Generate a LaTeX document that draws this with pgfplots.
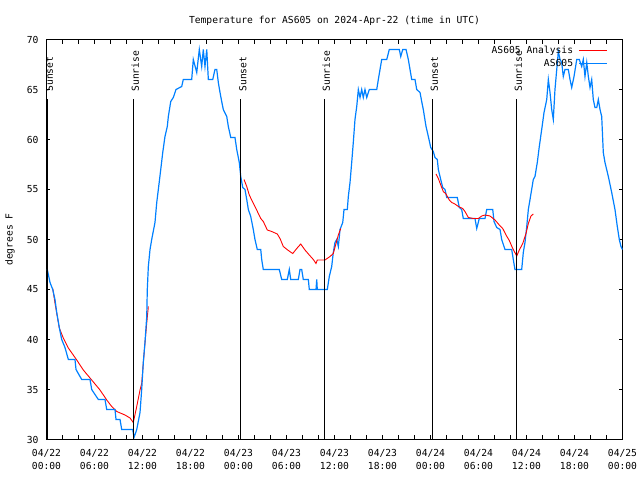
\documentclass[border=0pt]{standalone}
\usepackage{pgfplots}
\pgfplotsset{compat=1.18}
\usepackage{fontspec}
\setmainfont{DejaVu Sans Mono}
\definecolor{asblue}{RGB}{0,128,255}
\definecolor{asred}{RGB}{255,0,0}
\newcommand\gf{\fontsize{9.7}{13}\selectfont}
\begin{document}
\begin{tikzpicture}
\useasboundingbox (-46.5bp,-40.5bp) rectangle (593.5bp,439.5bp);
\begin{axis}[
  scale only axis, width=576bp, height=400bp,
  xmin=0, xmax=72, ymin=30, ymax=70,
  xtick={0,6,...,72},
  minor xtick={2,4,8,10,14,16,20,22,26,28,32,34,38,40,44,46,50,52,56,58,62,64,68,70},
  xticklabels={04/22\\00:00,04/22\\06:00,04/22\\12:00,04/22\\18:00,04/23\\00:00,04/23\\06:00,04/23\\12:00,04/23\\18:00,04/24\\00:00,04/24\\06:00,04/24\\12:00,04/24\\18:00,04/25\\00:00},
  ytick={30,35,...,70},
  tick align=inside, major tick length=4bp, minor tick length=4bp,
  tick style={black, line width=0.8bp},
  axis line style={line width=1bp},
  font=\gf, ticklabel style={font=\gf},
  /pgf/number format/assume math mode=true,
  xticklabel style={align=center, yshift=-6bp},
  yticklabel style={xshift=-4.5bp},
  title={Temperature for AS605 on 2024-Apr-22 (time in UTC)},
  title style={at={(0.5,1)}, anchor=center, yshift=12.5bp},
  ylabel={degrees F},
  ylabel style={at={(axis description cs:-0.0634,0.5)}, anchor=center},
  legend cell align=right, legend plot pos=right,
  legend image code/.code={\draw[#1] (0bp,0bp) -- (28bp,0bp);},
  legend style={at={(0.9748,0.988)}, anchor=north east, draw=none, fill=none, font=\gf, inner sep=0pt, row sep=1bp, column sep=4bp,
    nodes={inner sep=1.5bp}},
]
\addplot[asred, line width=0.9bp] coordinates {(0.78,45.1) (1.06,43.65) (1.35,42.3) (1.6,41.15) (2.1,40.15) (2.73,39.15) (3.78,37.95) (4.6,36.95) (5.65,35.95) (6.69,34.95) (7.53,33.95) (8.15,33.3) (8.78,32.8) (9.81,32.45) (10.44,32.15) (10.85,31.7) (11.28,33.3) (11.69,34.95) (11.9,35.6) (12.1,37.65) (12.31,39.65) (12.53,41.65) (12.73,43.3)};
\addlegendentry{AS605 Analysis}
\addplot[asblue, line width=1.2bp] coordinates {(0.1,47) (0.44,45.7) (0.78,45) (1.06,44) (1.28,42.7) (1.6,41.2) (1.9,40) (2.31,39.2) (2.73,38) (3.56,38) (3.69,37) (4.4,36) (5.44,36) (5.65,35) (6.48,34) (7.31,34) (7.53,33) (8.56,33) (8.69,32) (9.19,32) (9.4,31) (10.78,31) (10.94,30.2) (11.28,31) (11.69,32.7) (11.9,35) (12.1,37.7) (12.31,39.7) (12.53,42.3) (12.6,45) (12.73,47.3) (12.94,49) (13.15,50) (13.56,51.7) (13.78,53.7) (13.98,55) (14.28,57) (14.53,58.7) (14.81,60.3) (15.1,61.3) (15.23,62.3) (15.53,63.8) (15.85,64.2) (16.19,65) (16.9,65.3) (17.1,66) (18.15,66) (18.35,68) (18.78,66.7) (19.1,69) (19.4,67.3) (19.6,69) (19.81,67.3) (20.03,69) (20.23,66) (20.78,66) (21.06,67) (21.28,67) (21.48,65.7) (21.69,64.7) (21.9,63.8) (22.1,63) (22.53,62.3) (22.73,61.3) (23.03,60.2) (23.56,60.2) (23.78,59) (24.1,57.7) (24.28,56.3) (24.53,55.2) (24.81,55) (25.03,54) (25.23,53) (25.53,52.3) (25.85,51) (26.06,50) (26.35,49) (26.78,49) (26.9,48) (27.1,47) (29.1,47) (29.4,46) (30.1,46) (30.35,47) (30.53,46) (31.48,46) (31.69,47) (31.9,47) (32.1,46) (32.73,46) (32.85,45) (33.69,45) (33.78,46) (33.85,45) (35.1,45) (35.35,46.3) (35.65,47.3) (35.85,48.7) (36.06,49.7) (36.28,50) (36.48,49.3) (36.69,51) (37.03,51.7) (37.19,53) (37.6,53) (37.73,54.3) (37.94,55.7) (38.15,57.7) (38.35,59.7) (38.56,62) (38.78,63.3) (38.98,65) (39.19,64.2) (39.4,65) (39.6,64.2) (39.81,65) (40.03,64.2) (40.35,65) (41.28,65) (41.48,66) (41.9,68) (42.53,68) (42.85,69) (44.1,69) (44.28,68.3) (44.53,69) (44.94,69) (45.23,68) (45.44,67) (45.65,66) (46.06,66) (46.28,65) (46.69,64.7) (46.9,63.8) (47.1,63) (47.44,61.3) (47.73,60.3) (48.03,59.2) (48.35,58.8) (48.56,58.2) (48.85,58) (48.98,57) (49.28,56) (49.53,55.2) (49.81,55) (50.03,54.2) (51.35,54.2) (51.6,53.2) (51.9,53) (52.1,52.1) (53.56,52.1) (53.78,51.1) (54.1,52.1) (54.81,52.1) (55.03,53) (55.78,53) (55.94,51.8) (56.28,51.2) (56.69,51) (56.9,50) (57.31,49) (58.15,49) (58.35,48) (58.56,47) (59.4,47) (59.6,48.7) (59.81,49.7) (60.03,51.3) (60.23,53) (60.44,54) (60.85,56) (61.06,56.3) (61.35,57.7) (61.6,59.3) (61.9,61) (62.19,62.7) (62.53,64) (62.73,66) (62.94,64.7) (63.15,63) (63.35,62) (63.56,65) (63.78,67) (63.98,68.8) (64.19,68) (64.4,67.7) (64.6,66.3) (64.81,67) (65.23,67) (65.44,66) (65.65,65.2) (65.94,66.3) (66.28,68) (66.6,68) (66.9,67.3) (67.1,68) (67.31,66.3) (67.53,67.7) (67.73,66.3) (67.94,65.2) (68.15,66) (68.35,64) (68.56,63.2) (68.78,63.2) (68.98,64) (69.19,63) (69.4,62.3) (69.6,58.7) (69.81,57.7) (70.23,56.3) (70.65,54.7) (71.06,53) (71.35,51.3) (71.6,50) (71.81,49.3) (72,49)};
\addlegendentry{AS605}
\addplot[asred, line width=0.9bp, forget plot] coordinates {(24.69,56) (25.03,55.3) (25.35,54.45) (25.65,53.95) (26.06,53.3) (26.48,52.6) (26.78,52.1) (27.1,51.8) (27.6,50.95) (28.15,50.8) (28.85,50.55) (29.19,50.1) (29.6,49.3) (30.23,48.9) (30.78,48.6) (31.28,49.1) (31.78,49.55) (32.31,48.95) (32.85,48.45) (33.35,48) (33.69,47.6) (33.85,47.95) (34.81,47.95) (35.44,48.3) (35.85,48.6) (36.19,49.6) (36.48,50.45) (36.78,51.1)};
\addplot[asred, line width=0.9bp, forget plot] coordinates {(48.69,56.55) (48.98,56.1) (49.28,55.45) (49.6,54.8) (49.94,54.55) (50.35,53.95) (50.65,53.7) (51.06,53.55) (51.48,53.3) (52.03,53.1) (52.31,52.8) (52.73,52.2) (53.35,52.1) (53.98,52.1) (54.4,52.35) (54.81,52.45) (55.44,52.35) (56.06,51.95) (56.6,51.45) (57.03,51.1) (57.44,50.45) (57.85,49.9) (58.28,49.1) (58.78,48.35) (59.1,48.95) (59.53,49.6) (59.94,50.6) (60.23,51.6) (60.56,52.35) (60.85,52.55)};
\addplot[black, line width=0.8bp, forget plot] coordinates {(0.1,30) (0.1,64)};
\addplot[black, line width=0.8bp, forget plot] coordinates {(10.85,30) (10.85,64)};
\addplot[black, line width=0.8bp, forget plot] coordinates {(24.28,30) (24.28,64)};
\addplot[black, line width=0.8bp, forget plot] coordinates {(34.73,30) (34.73,64)};
\addplot[black, line width=0.8bp, forget plot] coordinates {(48.23,30) (48.23,64)};
\addplot[black, line width=0.8bp, forget plot] coordinates {(58.73,30) (58.73,64)};
\node[rotate=90, anchor=west, inner sep=0pt, font=\gf] at (axis cs:0.35,64.78) {Sunset};
\node[rotate=90, anchor=west, inner sep=0pt, font=\gf] at (axis cs:11.1,64.78) {Sunrise};
\node[rotate=90, anchor=west, inner sep=0pt, font=\gf] at (axis cs:24.53,64.78) {Sunset};
\node[rotate=90, anchor=west, inner sep=0pt, font=\gf] at (axis cs:34.98,64.78) {Sunrise};
\node[rotate=90, anchor=west, inner sep=0pt, font=\gf] at (axis cs:48.48,64.78) {Sunset};
\node[rotate=90, anchor=west, inner sep=0pt, font=\gf] at (axis cs:58.98,64.78) {Sunrise};
\end{axis}
\end{tikzpicture}
\end{document}
